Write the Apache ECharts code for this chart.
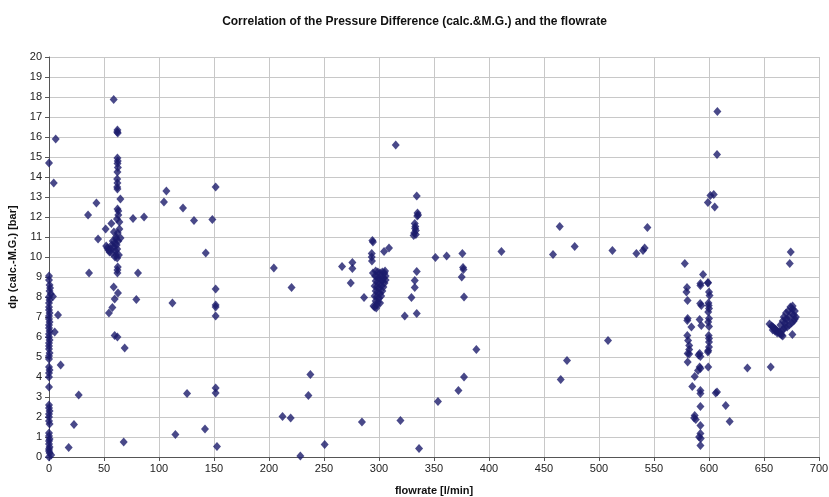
<!DOCTYPE html>
<html>
<head>
<meta charset="utf-8">
<script src="https://cdn.jsdelivr.net/npm/echarts@6/dist/echarts.min.js"></script>
<style>html,body{margin:0;padding:0;background:#fff}#c{width:829px;height:497px}</style>
</head>
<body>
<div id="c"></div>
<script>
var titleText = "Correlation of the Pressure Difference (calc.&M.G.) and the flowrate";
var xName = "flowrate [l/min]";
var yName = "dp (calc.-M.G.) [bar]";

// x = 0 column and nearby points
var zeroColumn = [
  [0,14.7],[0,9.05],[0,8.85],[0.5,8.6],[1,8.45],[0.5,8.3],[1.5,8.15],[0,8.0],[0.5,7.85],[0,7.7],[0,7.5],
  [0,7.35],[0.5,7.2],[0,7.05],[0,6.9],[0.5,6.75],[0,6.6],[0,6.45],[0.5,6.3],[0,6.15],[0,6.0],
  [0.5,5.85],[0,5.7],[0,5.55],[0,5.4],[0.5,5.2],[0,5.05],[0,4.9],[0,4.5],[0.5,4.35],[0,4.2],
  [0,4.0],[0,3.5],[0,2.6],[0,2.45],[0.5,2.3],[0,2.15],[0,2.0],[0,1.8],[0.5,1.65],[0,1.2],
  [0,1.05],[0.5,0.9],[0,0.8],[0,0.65],[0.5,0.5],[0,0.4],[0,0.3],[0.5,0.2],[2,0.1],[0,0.0]
];
var nearZero = [
  [6.1,15.9],[4.3,13.7],[3.6,8.03],[8.2,7.1],[5.2,6.25],[10.6,4.6],[27,3.1],[22.7,1.62],[17.9,0.47]
];
// cluster around 60 l/min
var cluster60 = [
  [58.8,17.87],[62.2,16.35],[62.5,16.2],[62,16.25],[62.2,14.95],[62.5,14.8],[62.3,14.67],[62.6,14.47],
  [62.2,14.25],[62,13.9],[62.2,13.7],[62,13.5],[62.2,13.4],[64.9,12.9],[62.3,12.4],[63,12.3],[63,12.1],
  [61.8,11.9],[64,11.75],[56.7,11.67],[51.5,11.4],[59,11.25],[61,11.0],[44.6,10.9],[52,10.55],[53,10.45],
  [54,10.35],[55,10.25],[56,10.4],[57,10.6],[58,10.8],[59,10.5],[60,10.7],[60.5,10.3],[61,10.9],
  [61.5,10.6],[62,10.4],[62.5,11.2],[63,10.8],[63.5,10.1],[64,11.4],[65,10.95],[61,10.1],[60,10.0],
  [57,10.2],[62,9.95],[62.5,9.5],[62.2,9.35],[62.2,9.2],[43.1,12.7],[35.5,12.1],[76.4,11.92],[86.4,12.0],
  [36.4,9.2],[80.9,9.2],[79.4,7.87],[58.8,8.5],[62.7,8.2],[59.7,7.9],[57.6,7.47],[54.5,7.2],[59.7,6.08],
  [62.2,6.0],[68.8,5.45],[67.9,0.75]
];
var range100to250 = [
  [106.7,13.3],[104.5,12.75],[121.8,12.45],[131.8,11.83],[148.5,11.87],[151.5,13.5],[142.5,10.2],
  [112.2,7.7],[151.5,8.4],[151.5,7.6],[151.5,7.5],[151.5,7.05],[204.4,9.45],[220.5,8.47],[125.5,3.17],
  [151.5,3.45],[151.5,3.2],[114.9,1.13],[141.8,1.4],[152.7,0.53],[237.6,4.13],[235.8,3.08],[212.3,2.03],
  [219.7,1.95],[228.5,0.05],[250.6,0.62]
];
var range250to400 = [
  [266.4,9.53],[275.8,9.72],[275.8,9.42],[274.3,8.7],[286.4,7.97],[294,10.83],[294.5,10.75],[309.1,10.45],
  [304.6,10.28],[293.4,10.17],[293.4,10.0],[293.6,9.8],[294.5,9.2],[315.2,15.6],[334.3,13.05],[335,12.2],
  [335.5,12.1],[334.8,12.05],[332.5,11.67],[333,11.53],[332.8,11.42],[333.5,11.33],[332,11.2],[333.5,11.13],
  [331.5,11.08],[334.3,9.28],[332.5,8.83],[332.5,8.47],[329.5,7.97],[323.4,7.05],[334.3,7.17],[351.3,9.97],
  [361.5,10.05],[375.8,10.17],[376.4,9.47],[376.8,9.37],[375.2,9.0],[377.3,8.0],[284.5,1.75],[319.5,1.82],
  [336.4,0.42],[353.6,2.78],[372.2,3.33],[377.3,4.0],[296,7.5],[297.5,7.45]
];
var cluster300 = [
  [297,9.3],[299,9.25],[301,9.2],[303,9.25],[305,9.2],[296.5,9.05],[298,9.0],[300,8.95],[302,9.0],
  [304,8.95],[306,9.05],[297,8.8],[299,8.75],[301,8.7],[303,8.8],[305,8.7],[296,8.55],[298,8.5],
  [300,8.45],[302,8.55],[304,8.5],[297,8.3],[299,8.25],[301,8.2],[303,8.3],[296,8.05],[298,8.0],
  [300,7.95],[302,8.05],[297,7.8],[299,7.75],[301,7.7],[295,7.55],[298,7.6],[306,8.85],[305.5,9.3]
];
var range400to560 = [
  [411.3,10.28],[458.2,10.13],[464.3,11.53],[477.9,10.52],[512.2,10.33],[534,10.17],[540,10.33],
  [541.5,10.45],[544,11.48],[388.5,5.38],[470.9,4.83],[465.2,3.87],[508.2,5.82]
];
var cluster590 = [
  [578,9.68],[607.6,17.28],[607.3,15.13],[601.3,13.08],[604.3,13.13],[599,12.72],[605.2,12.5],[594.6,9.13],
  [592.2,8.67],[599,8.7],[580,8.47],[579.5,8.25],[580.5,7.83],[580.6,6.92],[580.3,6.83],[584,6.5],
  [580.3,6.08],[581,5.83],[582,5.58],[582,5.37],[580.6,5.17],[582,5.15],[580.6,4.75],[592.2,8.58],
  [592,7.67],[593,7.58],[591.5,6.87],[593,6.58],[591.5,5.17],[592.2,5.03],[590.5,5.1],[591.5,4.5],
  [592.2,4.42],[590,4.33],[587,4.03],[584.8,3.53],[592.2,3.33],[592.2,3.17],[592.2,2.53],[587,2.08],
  [586.5,1.95],[588,1.87],[592.2,1.58],[592.2,1.17],[591,1.0],[592.5,0.92],[592.2,0.58],[599.1,8.72],
  [600,8.25],[600.5,8.08],[599.5,7.7],[599.7,7.58],[600,7.42],[599.3,7.25],[600,6.92],[599.3,6.75],
  [600,6.53],[599.7,6.08],[600,5.92],[600,5.75],[600,5.5],[599.3,5.33],[599,5.25],[599.3,4.5],
  [606.1,3.2],[607.3,3.25],[615.2,2.58],[618.8,1.78]
];
var cluster670 = [
  [634.9,4.45],[656.1,4.5],[674.3,10.25],[673.4,9.67],[675.8,6.12],
  [655,6.65],[657,6.55],[658,6.5],[659,6.45],[660,6.4],[661,6.35],[662,6.3],[663,6.25],[664,6.2],
  [665,6.15],[666,6.1],[667,6.05],[658,6.35],[660,6.3],[662,6.2],[664,6.25],[666,6.3],[668,6.4],[669,6.5],
  [665,6.6],[667,6.8],[668,7.0],[669,6.7],[670,7.2],[671,6.9],[672,7.3],[673,7.0],[674,7.5],[675,7.2],
  [676,7.4],[677,7.1],[678,7.3],[679,7.0],[677,6.8],[675,6.7],[673,6.6],[671,6.5],[670,6.9],[678,6.9],[676,7.55]
];

var allPoints = [].concat(zeroColumn, nearZero, cluster60, range100to250, range250to400,
  cluster300, range400to560, cluster590, cluster670);

var chart = echarts.init(document.getElementById('c'), null, {renderer:'canvas'});
var axisFont = {fontFamily:'Liberation Sans, Arial, sans-serif', fontSize:11, color:'#222'};
chart.setOption({
  animation:false,
  backgroundColor:'#fff',
  title:{text:titleText, left:'center', top:11,
    textStyle:{fontFamily:'Liberation Sans, Arial, sans-serif', fontSize:12, fontWeight:'bold', color:'#111'}},
  grid:{left:49, right:10, top:57, bottom:40, containLabel:false, outerBoundsMode:'none'},
  xAxis:{type:'value', min:0, max:700, interval:50,
    name:xName, nameLocation:'middle', nameGap:28,
    nameTextStyle:{fontFamily:'Liberation Sans, Arial, sans-serif', fontSize:11, fontWeight:'bold', color:'#111'},
    axisLine:{show:true, onZero:false, lineStyle:{color:'#555', width:1}},
    axisTick:{show:true, inside:false, length:4, lineStyle:{color:'#555'}},
    axisLabel:Object.assign({margin:6}, axisFont),
    splitLine:{show:true, lineStyle:{color:'#c8c8c8', width:1}}
  },
  yAxis:{type:'value', min:0, max:20, interval:1,
    name:yName, nameLocation:'middle', nameGap:30, nameRotate:90,
    nameTextStyle:{fontFamily:'Liberation Sans, Arial, sans-serif', fontSize:11, fontWeight:'bold', color:'#111'},
    axisLine:{show:true, onZero:false, lineStyle:{color:'#555', width:1}},
    axisTick:{show:true, inside:false, length:4, lineStyle:{color:'#555'}},
    axisLabel:Object.assign({margin:7}, axisFont),
    splitLine:{show:true, lineStyle:{color:'#c8c8c8', width:1}}
  },
  series:[{
    type:'scatter',
    symbol:'diamond',
    symbolSize:[8,9],
    itemStyle:{color:'#1c1c6b'},
    data:allPoints
  }]
});
</script>
</body>
</html>
